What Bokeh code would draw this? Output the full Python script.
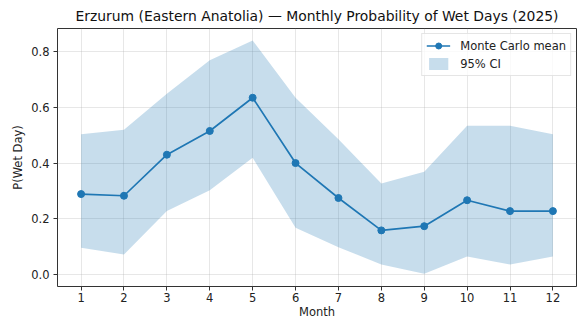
from bokeh.plotting import figure
from bokeh.models import Range1d, FixedTicker, NumeralTickFormatter, ColumnDataSource
from bokeh.embed import file_html
from bokeh.resources import INLINE

months = [1, 2, 3, 4, 5, 6, 7, 8, 9, 10, 11, 12]
mean = [0.289, 0.283, 0.430, 0.515, 0.634, 0.400, 0.275, 0.159, 0.174, 0.267, 0.228, 0.228]
upper = [0.503, 0.519, 0.648, 0.768, 0.839, 0.634, 0.485, 0.327, 0.369, 0.534, 0.534, 0.503]
lower = [0.097, 0.073, 0.228, 0.303, 0.419, 0.168, 0.099, 0.037, 0.004, 0.065, 0.037, 0.065]
y_ticks = [0.0, 0.2, 0.4, 0.6, 0.8]

src = ColumnDataSource(dict(x=months, m=mean, lo=lower, hi=upper))

FONT = "DejaVu Sans"
p = figure(width=577, height=322, output_backend="svg", toolbar_location=None,
           x_range=Range1d(0.45, 12.55), y_range=Range1d(-0.042, 0.882),
           min_border_left=57, min_border_right=1, min_border_top=28, min_border_bottom=36,
           title="Erzurum (Eastern Anatolia) — Monthly Probability of Wet Days (2025)")
p.title.text_font = FONT
p.title.text_font_size = "13.9px"
p.title.text_font_style = "normal"
p.title.align = "center"
p.title.text_color = "#111111"

p.varea(x="x", y1="lo", y2="hi", source=src, fill_color="#1f77b4", fill_alpha=0.25,
        legend_label="95% CI")
p.line(x="x", y="m", source=src, line_color="#1f77b4", line_width=1.7,
       legend_label="Monte Carlo mean")
p.scatter(x="x", y="m", source=src, size=7, fill_color="#1f77b4", line_color="#1f77b4",
          legend_label="Monte Carlo mean")

p.xaxis.ticker = FixedTicker(ticks=months)
p.yaxis.ticker = FixedTicker(ticks=y_ticks)
p.yaxis.formatter = NumeralTickFormatter(format="0.0")
p.xaxis.axis_label = "Month"
p.yaxis.axis_label = "P(Wet Day)"
for ax in (p.xaxis, p.yaxis):
    ax.axis_label_text_font = FONT
    ax.axis_label_text_font_size = "11.5px"
    ax.axis_label_text_font_style = "normal"
    ax.axis_label_text_color = "#222222"
    ax.major_label_text_font = FONT
    ax.major_label_text_font_size = "11.5px"
    ax.major_label_text_color = "#222222"
    ax.minor_tick_line_color = None
    ax.major_tick_out = 4
    ax.major_tick_in = 0
    ax.axis_line_color = None
    ax.major_tick_line_color = "#333333"
    ax.major_label_standoff = 4
p.xaxis.major_label_standoff = 2
p.xaxis.axis_label_standoff = 0
p.yaxis.axis_label_standoff = 3

p.xgrid.grid_line_color = "#b0b0b0"
p.ygrid.grid_line_color = "#b0b0b0"
p.xgrid.grid_line_alpha = 0.3
p.ygrid.grid_line_alpha = 0.3
p.outline_line_color = "#333333"
p.outline_line_width = 1
p.outline_line_alpha = 1

leg = p.legend[0]
leg.location = "top_right"
leg.items = [leg.items[1], leg.items[0]]
leg.margin = 5
leg.padding = 4
leg.spacing = 3
leg.label_height = 15
leg.glyph_height = 15
leg.glyph_width = 24
leg.label_standoff = 10
leg.label_text_font = FONT
leg.label_text_font_size = "11.5px"
leg.label_text_color = "#222222"
leg.border_line_color = "#cccccc"
leg.background_fill_alpha = 0.8

open("out.html", "w").write(file_html(p, INLINE))
